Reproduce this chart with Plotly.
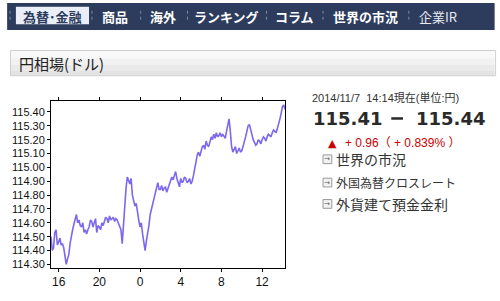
import plotly.graph_objects as go

W, H = 500, 301
L, R, T, B = 45, 215, 101, 28
PW, PH = W - L - R, H - T - B


def px(x):
    return (x - L) / PW


def py(y):
    return (H - B - y) / PH


# ---- data (USD/JPY, 7.5-minute samples from 15:15 to 14:15) ----
start_hour = 15.25
step_hours = 0.125
prices = [
    114.50, 114.40, 114.42, 114.53, 114.55, 114.44, 114.46, 114.49, 114.44, 114.45,
    114.42, 114.35, 114.30, 114.34, 114.37, 114.45, 114.51, 114.55, 114.59, 114.64,
    114.66, 114.60, 114.62, 114.58, 114.57, 114.60, 114.53, 114.55, 114.52, 114.55,
    114.57, 114.62, 114.61, 114.57, 114.60, 114.63, 114.53, 114.58, 114.57, 114.55,
    114.60, 114.58, 114.61, 114.64, 114.63, 114.60, 114.65, 114.62, 114.63, 114.64,
    114.61, 114.63, 114.62, 114.60, 114.58, 114.55, 114.45, 114.60, 114.70, 114.85,
    114.93, 114.90, 114.88, 114.92, 114.80, 114.76, 114.72, 114.74, 114.66, 114.62,
    114.57, 114.60, 114.52, 114.46, 114.40, 114.47, 114.52, 114.58, 114.66, 114.70,
    114.75, 114.79, 114.83, 114.86, 114.89, 114.84, 114.84, 114.87, 114.83, 114.85,
    114.86, 114.82, 114.85, 114.88, 114.90, 114.93, 114.91, 114.94, 114.97, 114.92,
    114.88, 114.86, 114.92, 114.89, 114.90, 114.93, 114.92, 114.89, 114.90, 114.92,
    114.88, 114.90, 114.94, 114.98, 115.04, 115.09, 115.11, 115.08, 115.12, 115.15,
    115.16, 115.13, 115.19, 115.16, 115.15, 115.19, 115.22, 115.20, 115.24, 115.21,
    115.25, 115.22, 115.23, 115.25, 115.22, 115.24, 115.22, 115.21, 115.26, 115.31,
    115.35, 115.26, 115.15, 115.11, 115.13, 115.15, 115.10, 115.12, 115.14, 115.11,
    115.12, 115.15, 115.18, 115.22, 115.26, 115.30, 115.31, 115.27, 115.24, 115.20,
    115.18, 115.16, 115.17, 115.20, 115.19, 115.17, 115.20, 115.22, 115.21, 115.19,
    115.22, 115.24, 115.23, 115.22, 115.25, 115.27, 115.26, 115.25, 115.28, 115.31,
    115.35, 115.39, 115.44, 115.45, 115.42,
]
hours = [start_hour + step_hours * i for i in range(len(prices))]

x_tick_vals = [16, 20, 24, 28, 32, 36]
x_tick_text = ["16", "20", "0", "4", "8", "12"]
y_tick_vals = [114.30, 114.40, 114.50, 114.60, 114.70, 114.80, 114.90,
               115.00, 115.10, 115.20, 115.30, 115.40]

nav_items = ["為替･金融", "商品", "海外", "ランキング", "コラム", "世界の市況", "企業IR"]
nav_centers = [46.5, 111, 160, 225, 295, 367.5, 441.5]
nav_separators = [3, 87, 137, 185, 266, 324, 412]

header_title = "円相場(ドル)"
date_text = "2014/11/7\u00a0 14:14現在(単位:円)"
bid_text = "115.41"
ask_text = "115.44"
change_text = "+ 0.96（ + 0.839% ）"
links = ["世界の市況", "外国為替クロスレート", "外貨建て預金金利"]
link_y = [161, 185, 207]
link_sizes = [14, 12, 14]

NAVY = "#2d3c5d"
JP = "Noto Sans CJK JP"
SANS = "Liberation Sans, Arial, Noto Sans CJK JP"

fig = go.Figure()
fig.add_trace(go.Scatter(
    x=hours, y=prices, mode="lines",
    line=dict(color="#7B68EE", width=1.6),
    hoverinfo="skip", showlegend=False,
))

shapes = []
annotations = []

# nav bar
shapes.append(dict(type="rect", xref="paper", yref="paper",
                   x0=px(0), x1=px(500), y0=py(0), y1=py(28),
                   fillcolor=NAVY, line=dict(width=0), layer="below"))
shapes.append(dict(type="rect", xref="paper", yref="paper",
                   x0=px(9), x1=px(84), y0=py(4), y1=py(22),
                   fillcolor="#e9eef7", line=dict(width=0), layer="below"))
for sx in nav_separators:
    shapes.append(dict(type="line", xref="paper", yref="paper",
                       x0=px(sx), x1=px(sx), y0=py(8), y1=py(20),
                       line=dict(color="#7e8aa5", width=1, dash="dot")))
for i, (txt, cx) in enumerate(zip(nav_items, nav_centers)):
    if i == 0:
        col, w = NAVY, "bold"
    elif txt == "企業IR":
        col, w = "#e6e9f0", "normal"
    else:
        col, w = "#ffffff", "bold"
    annotations.append(dict(text=txt, xref="paper", yref="paper",
                            x=px(cx), y=py(13.5), xanchor="center", yanchor="middle",
                            showarrow=False,
                            font=dict(family=JP, size=13, color=col, weight=w)))

# section header
bands = [(49, 57, "#f8f8f8"), (57, 64, "#f1f1f1"), (64, 70, "#eaeaea"), (70, 75, "#e3e3e3")]
for y0, y1, c in bands:
    shapes.append(dict(type="rect", xref="paper", yref="paper",
                       x0=px(3), x1=px(500), y0=py(y0), y1=py(y1),
                       fillcolor=c, line=dict(width=0), layer="below"))
shapes.append(dict(type="rect", xref="paper", yref="paper",
                   x0=px(3.5), x1=px(501), y0=py(49), y1=py(75),
                   fillcolor="rgba(0,0,0,0)", line=dict(color="#cfcfcf", width=1)))
annotations.append(dict(text=header_title, xref="paper", yref="paper",
                        x=px(10), y=py(62), xanchor="left", yanchor="middle",
                        showarrow=False, font=dict(family=JP, size=15, color="#222")))

# right panel
annotations.append(dict(text=date_text, xref="paper", yref="paper",
                        x=px(311), y=py(97), xanchor="left", yanchor="middle",
                        showarrow=False, font=dict(family=SANS, size=11, color="#333")))
annotations.append(dict(text=bid_text, xref="paper", yref="paper",
                        x=px(312), y=py(119.5), xanchor="left", yanchor="middle",
                        showarrow=False,
                        font=dict(family="DejaVu Sans", size=18, color="#2a2a2a", weight="bold")))
annotations.append(dict(text=ask_text, xref="paper", yref="paper",
                        x=px(417), y=py(119.5), xanchor="left", yanchor="middle",
                        showarrow=False,
                        font=dict(family="DejaVu Sans", size=18, color="#2a2a2a", weight="bold")))
shapes.append(dict(type="line", xref="paper", yref="paper",
                   x0=px(394), x1=px(406), y0=py(119), y1=py(119),
                   line=dict(color="#2a2a2a", width=2.5)))
annotations.append(dict(text="▲", xref="paper", yref="paper",
                        x=px(334), y=py(144.5), xanchor="center", yanchor="middle",
                        showarrow=False, font=dict(family="DejaVu Sans", size=11, color="#cc0000")))
annotations.append(dict(text=change_text, xref="paper", yref="paper",
                        x=px(344), y=py(144.5), xanchor="left", yanchor="middle",
                        showarrow=False, font=dict(family=SANS, size=12, color="#cc0000")))
for txt, ly, fs in zip(links, link_y, link_sizes):
    shapes.append(dict(type="rect", xref="paper", yref="paper",
                       x0=px(324), x1=px(333), y0=py(ly - 4.5), y1=py(ly + 4.5),
                       fillcolor="#f2f2f2", line=dict(color="#9a9a9a", width=1)))
    annotations.append(dict(text="→", xref="paper", yref="paper",
                            x=px(328.5), y=py(ly), xanchor="center", yanchor="middle",
                            showarrow=False, font=dict(family="DejaVu Sans", size=7, color="#555")))
    annotations.append(dict(text=txt, xref="paper", yref="paper",
                            x=px(335), y=py(ly), xanchor="left", yanchor="middle",
                            showarrow=False, font=dict(family=JP, size=fs, color="#333")))

axis_font = dict(family="Liberation Sans, Arial", size=11, color="#111")
fig.update_layout(
    width=W, height=H,
    margin=dict(l=L, r=R, t=T, b=B, pad=0),
    paper_bgcolor="white", plot_bgcolor="white",
    showlegend=False,
    xaxis=dict(range=[15.25, 38.25], tickvals=x_tick_vals, ticktext=x_tick_text,
               showline=True, linecolor="black", linewidth=1, mirror="ticks",
               ticks="outside", ticklen=3, tickcolor="black",
               showgrid=False, zeroline=False,
               tickfont=dict(family="Liberation Sans, Arial", size=12, color="#111")),
    yaxis=dict(range=[114.274, 115.479], tickvals=y_tick_vals, tickformat=".2f",
               showline=True, linecolor="black", linewidth=1, mirror=True,
               ticks="outside", ticklen=3, tickcolor="black",
               showgrid=False, zeroline=False, tickfont=axis_font),
    shapes=shapes, annotations=annotations,
)

fig.write_html("out.html")
